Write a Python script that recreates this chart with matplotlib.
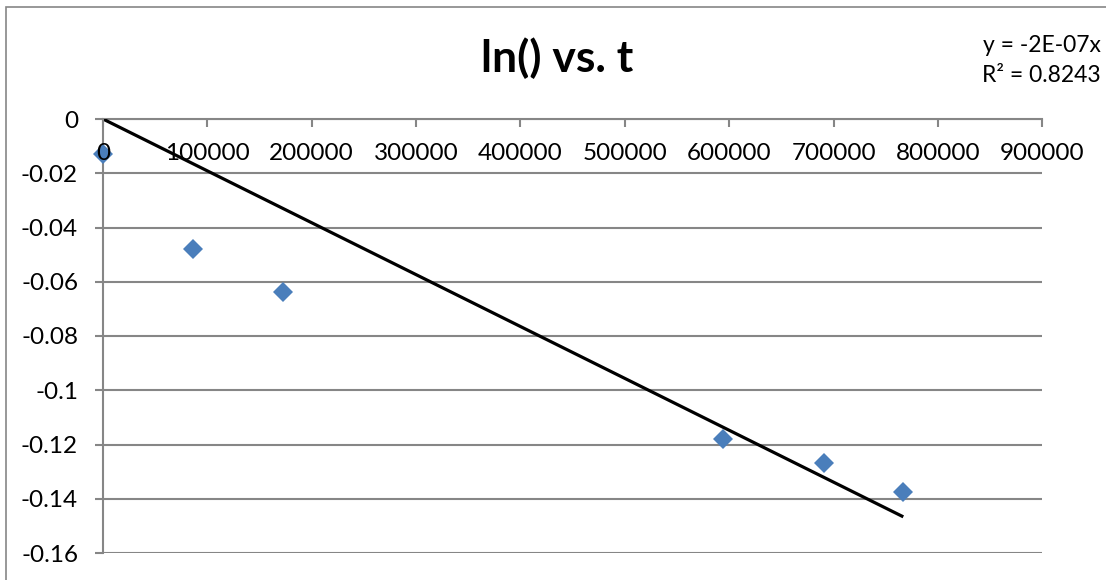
import numpy as np
import matplotlib
matplotlib.use("Agg")
import matplotlib.pyplot as plt
from matplotlib.patches import Rectangle

# Elapsed time t and ln(ratio) measurements
t_values = [0, 86300, 172500, 593700, 690800, 766800]
ln_values = [-0.0129, -0.0478, -0.0637, -0.1181, -0.1267, -0.1376]

x_ticks = [0, 100000, 200000, 300000, 400000, 500000, 600000, 700000, 800000, 900000]
y_ticks = [0, -0.02, -0.04, -0.06, -0.08, -0.1, -0.12, -0.14, -0.16]
y_tick_labels = ["0", "-0.02", "-0.04", "-0.06", "-0.08", "-0.1", "-0.12", "-0.14", "-0.16"]

title_text = "ln() vs. t"
equation_text = "y = -2E-07x"
r2_text = "R² = 0.8243"

FONT = ["Lato", "DejaVu Sans"]
GRID = "#868686"
MARKER = "#4A7EBB"

W, H, DPI = 1106, 580, 100
fig = plt.figure(figsize=(W / DPI, H / DPI), dpi=DPI)
fig.patch.set_facecolor("white")

# chart-area frame
fig.patches.append(Rectangle((6 / W, -0.1), 1.2, (H - 7) / H + 0.1,
                             transform=fig.transFigure, fill=False,
                             edgecolor=GRID, linewidth=1.2))

left, right = 103 / W, 1042.3 / W
top, bottom = 1 - 119 / H, 1 - 553 / H
ax = fig.add_axes([left, bottom, right - left, top - bottom])
ax.set_xlim(0, 900000)
ax.set_ylim(-0.16, 0)

# horizontal gridlines
for yv in y_ticks:
    ax.axhline(yv, color=GRID, linewidth=1.5, zorder=1)

for s in ["top", "right"]:
    ax.spines[s].set_visible(False)
ax.spines["left"].set_color(GRID)
ax.spines["left"].set_linewidth(1.5)
ax.spines["bottom"].set_position(("data", 0))
ax.spines["bottom"].set_color(GRID)
ax.spines["bottom"].set_linewidth(1.5)

ax.set_xticks(x_ticks)
ax.set_xticklabels([str(v) for v in x_ticks], fontfamily=FONT, fontsize=17.5)
ax.set_yticks(y_ticks)
ax.set_yticklabels(y_tick_labels, fontfamily=FONT, fontsize=17.5)
ax.tick_params(axis="x", direction="out", length=6, width=1.5, color=GRID, pad=11)
ax.tick_params(axis="y", direction="out", length=6, width=1.5, color=GRID, pad=12)
ax.xaxis.set_zorder(5)

# least-squares trendline forced through the origin
tx = np.array(t_values, dtype=float)
ty = np.array(ln_values, dtype=float)
slope = np.sum(tx * ty) / np.sum(tx * tx)
xs = np.array([0.0, tx.max()])
ax.plot(xs, slope * xs, color="black", linewidth=2.3, zorder=4, solid_capstyle="butt")

ax.plot(t_values, ln_values, linestyle="none", marker="D", markersize=10.5,
        color=MARKER, markeredgewidth=0, zorder=3, clip_on=False)

fig.text(557 / W, 1 - 58 / H, title_text, ha="center", va="center",
         fontfamily=FONT, fontsize=32, fontweight="bold")
fig.text(1101 / W, 1 - 46 / H, equation_text, ha="right", va="center",
         fontfamily=FONT, fontsize=16.5)
fig.text(1101 / W, 1 - 76 / H, r2_text, ha="right", va="center",
         fontfamily=FONT, fontsize=16.5)

fig.savefig("out.png", dpi=DPI)
